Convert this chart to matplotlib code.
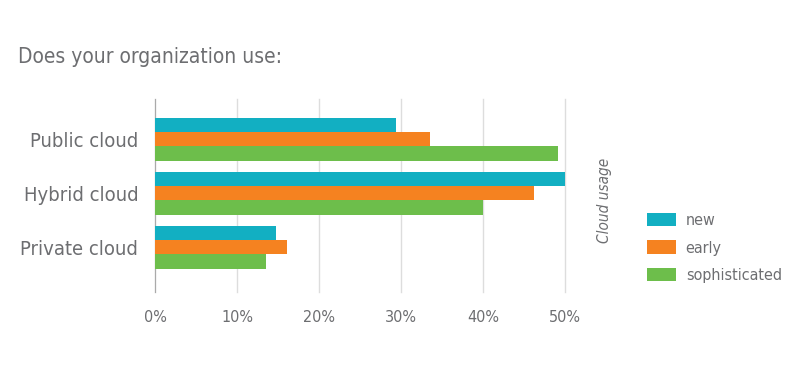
import matplotlib
matplotlib.use("Agg")
import matplotlib.pyplot as plt
from matplotlib.patches import Patch

categories = ["Private cloud", "Hybrid cloud", "Public cloud"]
series_names = ["new", "early", "sophisticated"]
new_vals = [14.7, 50.0, 29.4]
early_vals = [16.1, 46.2, 33.5]
soph_vals = [13.5, 40.0, 49.1]
xticks = [0, 10, 20, 30, 40, 50]
xtick_labels = ["0%", "10%", "20%", "30%", "40%", "50%"]
colors = ["#12AFC2", "#F58220", "#6DBE4B"]

plt.rcParams['font.family'] = ['DejaVu Sans']
TXT = "#6d6e71"

fig = plt.figure(figsize=(8, 3.71), dpi=100)
ax = fig.add_axes([155/800, 1-292/371, 410/800, 193/371])

h = 0.265
ys = list(range(len(categories)))
for i, (vals, c) in enumerate(zip([new_vals, early_vals, soph_vals], colors)):
    offs = (1 - i) * h
    ax.barh([y + offs for y in ys], vals, height=h, color=c, zorder=3)

ax.set_xlim(0, 50)
ax.set_ylim(-0.828, 2.746)
ax.set_xticks(xticks)
ax.set_xticklabels(xtick_labels, fontsize=11.5, color=TXT, fontstretch='condensed')
ax.set_yticks(ys)
ax.set_yticklabels(categories, fontsize=14.5, color=TXT, fontstretch='condensed')
ax.tick_params(axis='x', length=0, pad=13)
ax.tick_params(axis='y', length=0, pad=12)
ax.grid(axis='x', color="#dddddd", linewidth=1, zorder=0)
for gl in ax.get_xgridlines():
    gl.set_clip_on(False)
for s in ["top", "right", "bottom"]:
    ax.spines[s].set_visible(False)
ax.spines["left"].set_color("#aaaaaa")

fig.text(18/800, 1-57/371, "Does your organization use:", fontsize=15, color=TXT,
         va="center", ha="left", fontstretch='condensed')
fig.text(605/800, 1-200/371, "Cloud usage", fontsize=11, color=TXT, rotation=90,
         style="italic", va="center", ha="center", fontstretch='condensed')

handles = [Patch(facecolor=c, edgecolor="none", label=n) for c, n in zip(colors, series_names)]
leg = fig.legend(handles=handles, loc="center left", bbox_to_anchor=(633/800, 1-248/371),
                 frameon=False, handlelength=1.8, handleheight=0.88,
                 labelspacing=0.78, handletextpad=0.6,
                 prop={'size': 11.5, 'stretch': 'condensed', 'family': 'DejaVu Sans'})
for t in leg.get_texts():
    t.set_color(TXT)

fig.savefig("out.png", dpi=100)
